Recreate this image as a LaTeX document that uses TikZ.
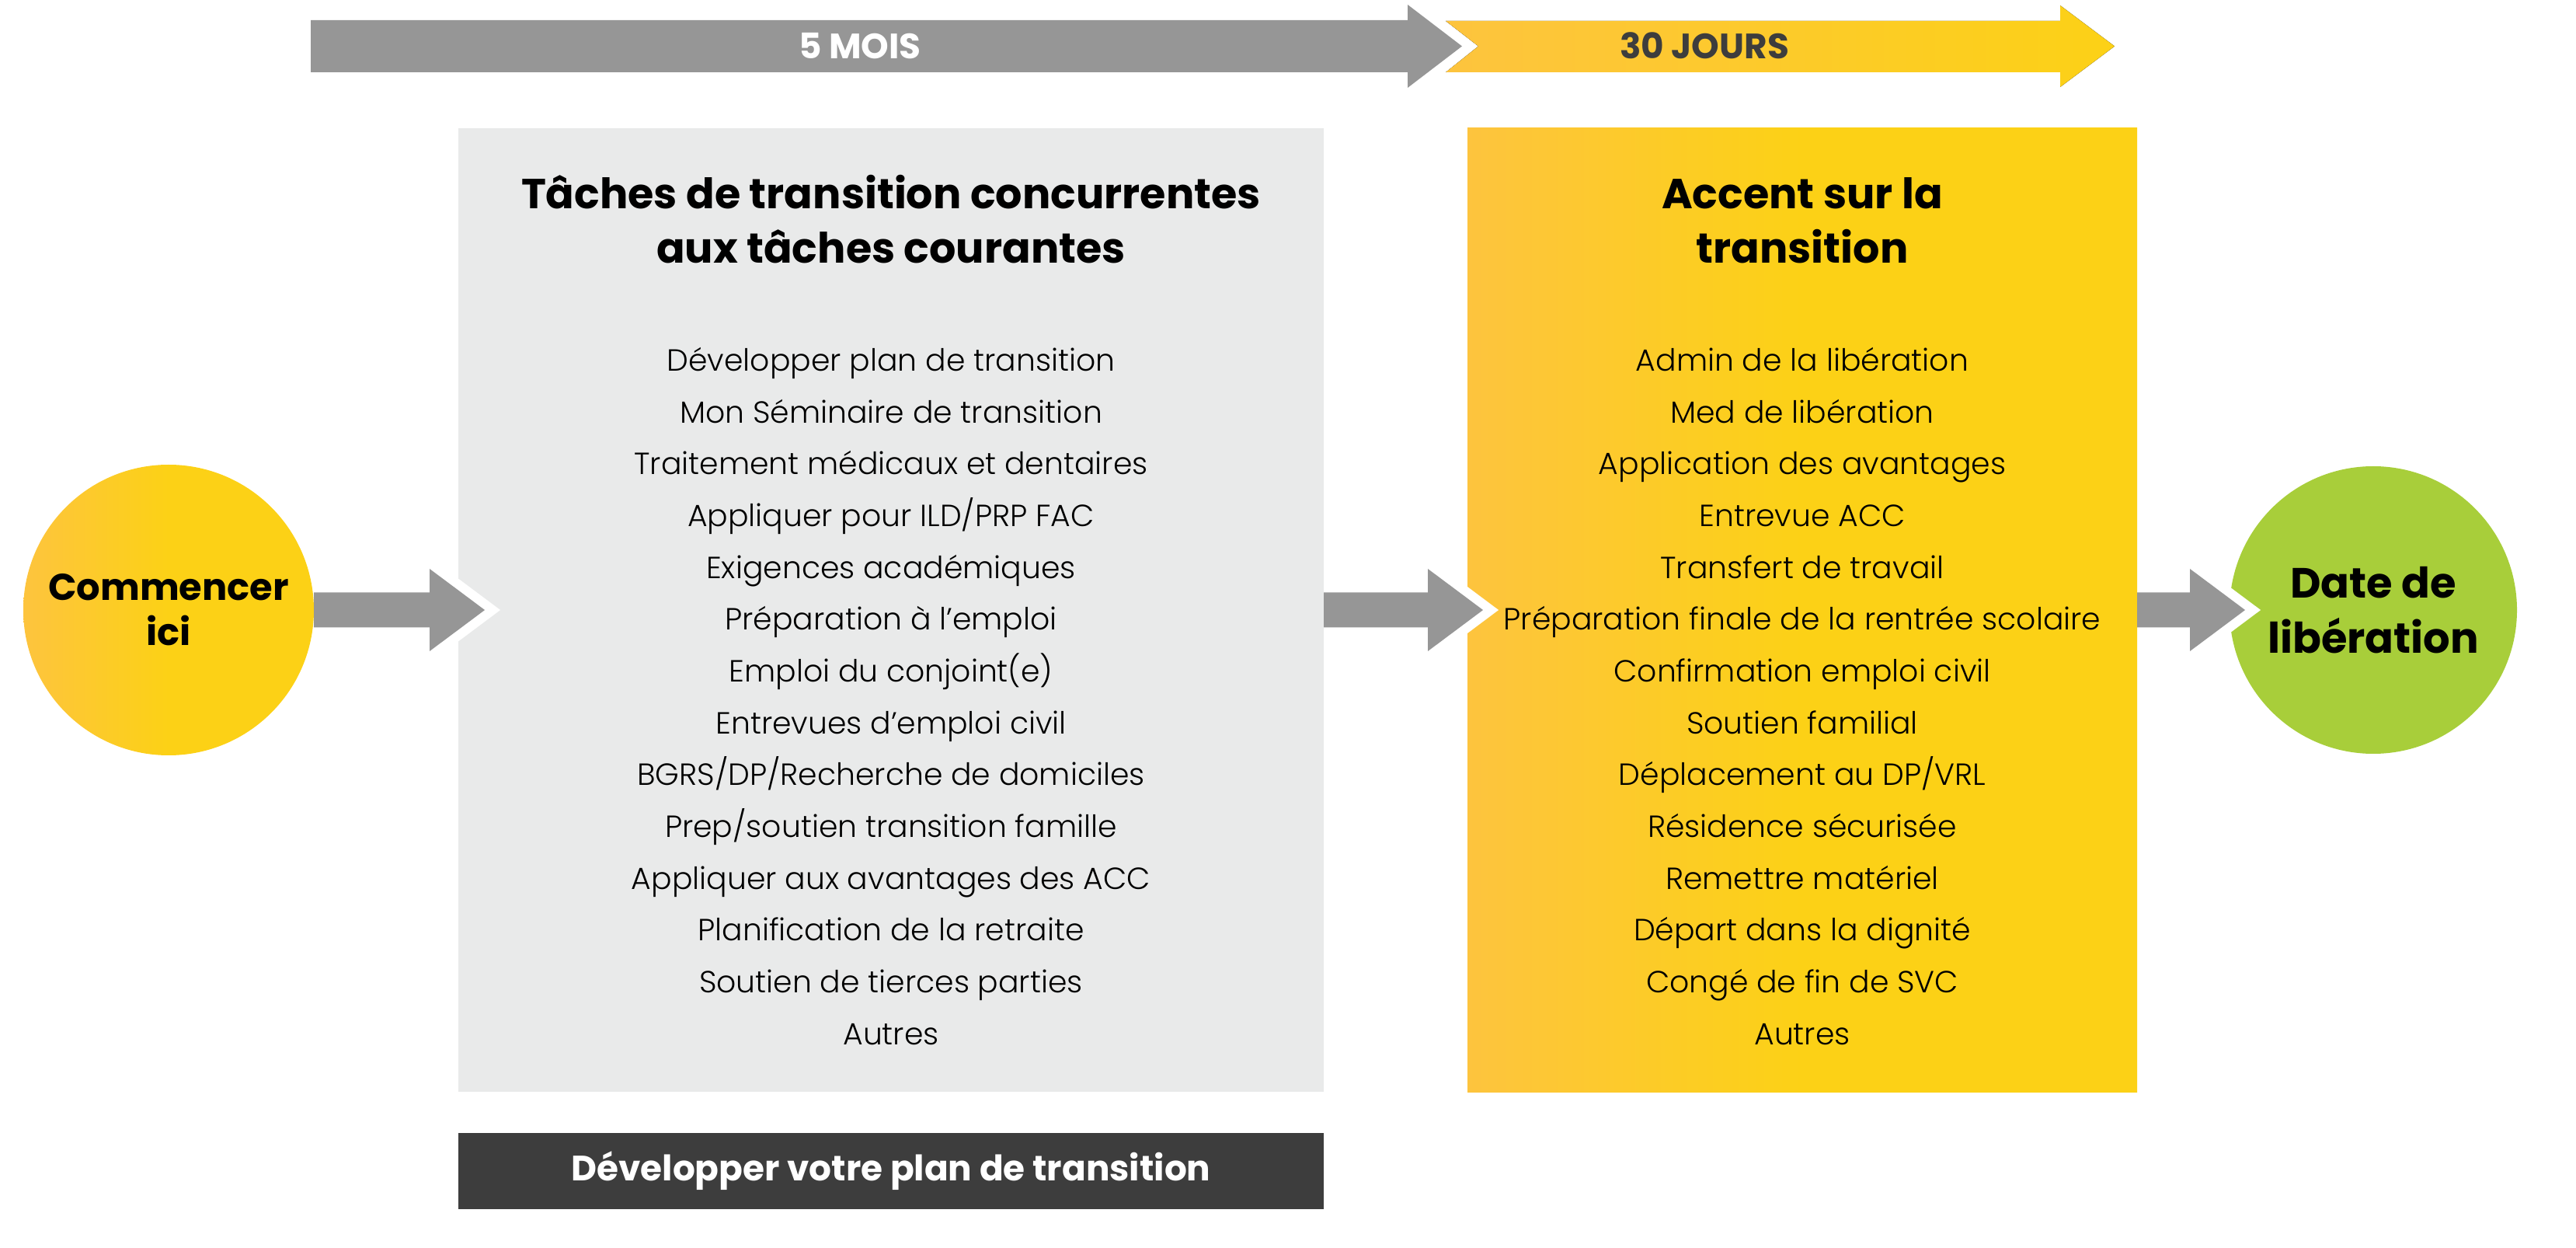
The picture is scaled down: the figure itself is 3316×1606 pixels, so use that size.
\documentclass[tikz,border=0pt]{standalone}
\usepackage{fontspec}
\setmainfont{Poppins}
\newfontfamily\lightfont{Poppins Light}
\usetikzlibrary{positioning,calc}
\definecolor{arrowGray}{RGB}{150,150,150}
\definecolor{boxGray}{RGB}{233,234,234}
\definecolor{barGray}{RGB}{61,61,61}
\definecolor{sunOrange}{RGB}{253,196,62}
\definecolor{sunYellow}{RGB}{252,209,22}
\definecolor{leafGreen}{RGB}{168,206,58}
\newcommand{\bigarrow}[3]{%
  \coordinate (tip) at ($(#2.west)+(#3,0)$);
  \draw[white,line width=7.2pt] ($(tip)+(-71,-53)$) -- (tip) -- ($(tip)+(-71,53)$);
  \fill[arrowGray] ($(#1.east)+(0,-22.5)$) -- ($(tip)+(-71,-22.5)$) -- ($(tip)+(-71,-53)$) -- (tip)
    -- ($(tip)+(-71,53)$) -- ($(tip)+(-71,22.5)$) -- ($(#1.east)+(0,22.5)$) -- cycle;}

\begin{document}
\begin{tikzpicture}[x=0.3pt,y=-0.3pt,text centered]
\useasboundingbox (0,0) rectangle (3316,1606);
\tikzstyle{every node}=[inner sep=0pt,outer sep=0pt]
\draw (1147,785) node[fill=boxGray,minimum width=334.2pt,minimum height=372pt] (tasks) {};
\draw (2320,785) node[left color=sunOrange,right color=sunYellow,middle color=sunYellow,minimum width=258.6pt,minimum height=372pt] (focus) {};
\draw (1147,1507) node[fill=barGray,minimum width=334.2pt,minimum height=29.4pt,text=white,font=\bfseries\fontsize{13.6}{15}\selectfont] (plan) {Développer votre plan de transition};
\draw (217,785) node[circle,minimum size=112.2pt,left color=sunOrange,right color=sunYellow,middle color=sunYellow,align=center,font=\bfseries\fontsize{14.4}{17.4}\selectfont] (start) {Commencer\\ici};
\draw (3055,785) node[circle,minimum size=111pt,fill=leafGreen,align=center,font=\bfseries\fontsize{16.3}{21.3}\selectfont] (release) {Date de\\libération};

\fill[arrowGray] (400,26) -- (1812,26) -- (1812,6) -- (1882,59.5) -- (1812,113) -- (1812,93) -- (400,93) -- cycle;
\fill[left color=sunOrange,right color=sunYellow] (1861,27) -- (2652,27) -- (2652,7) -- (2722,59.5) -- (2652,112) -- (2652,93) -- (1861,93) -- (1903,59.5) -- cycle;

\tikzstyle{every node}=[inner sep=0pt,align=center,anchor=base]
\draw (1107,76) node[text=white,font=\bfseries\fontsize{13.6}{15}\selectfont] (months) {5 MOIS};
\draw (2194,76) node[text=barGray,font=\bfseries\fontsize{13.6}{15}\selectfont] (days) {30 JOURS};
\draw (1147,339) node[font=\bfseries\fontsize{16.2}{21}\selectfont] (taskstitle) {Tâches de transition concurrentes\\aux tâches courantes};
\draw (2320,339) node[font=\bfseries\fontsize{16.2}{21}\selectfont] (focustitle) {Accent sur la\\transition};
\draw (1147,1344) node[font=\lightfont\fontsize{11.8}{20}\selectfont] (tasklist) {Développer plan de transition\\Mon Séminaire de transition\\Traitement médicaux et dentaires\\Appliquer pour ILD/PRP FAC\\Exigences académiques\\Préparation à l’emploi\\Emploi du conjoint(e)\\Entrevues d’emploi civil\\BGRS/DP/Recherche de domiciles\\Prep/soutien transition famille\\Appliquer aux avantages des ACC\\Planification de la retraite\\Soutien de tierces parties\\Autres};
\draw (2320,1344) node[font=\lightfont\fontsize{11.8}{20}\selectfont] (focuslist) {Admin de la libération\\Med de libération\\Application des avantages\\Entrevue ACC\\Transfert de travail\\Préparation finale de la rentrée scolaire\\Confirmation emploi civil\\Soutien familial\\Déplacement au DP/VRL\\Résidence sécurisée\\Remettre matériel\\Départ dans la dignité\\Congé de fin de SVC\\Autres};

\bigarrow{start}{tasks}{34}
\bigarrow{tasks}{focus}{20}
\bigarrow{focus}{release}{20}

\end{tikzpicture}
\end{document}
